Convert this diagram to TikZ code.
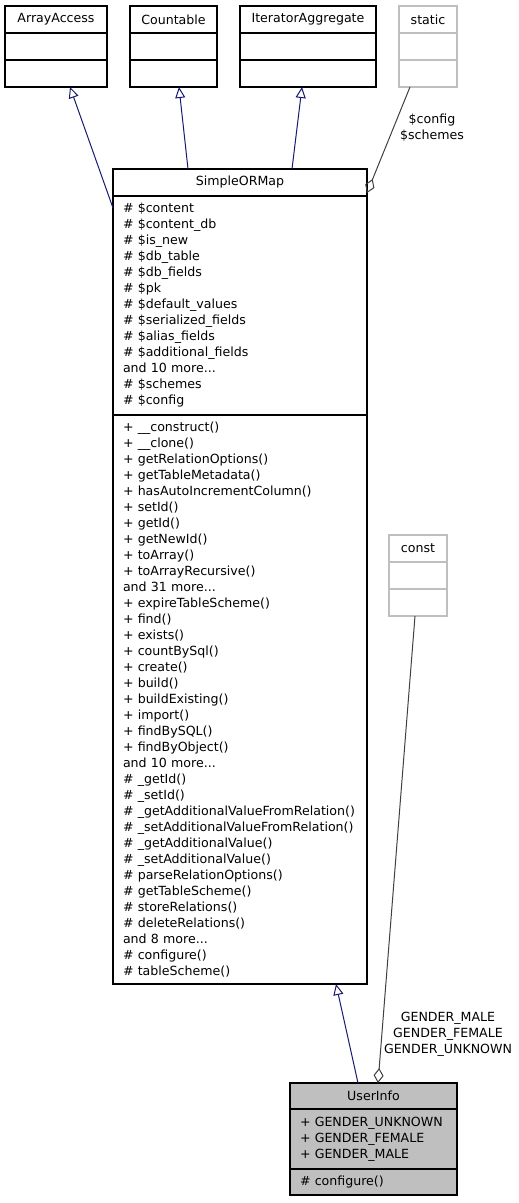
\documentclass[tikz,border=0pt]{standalone}
\usepackage{fontspec}
\setmainfont{DejaVu Sans}
\usetikzlibrary{positioning,arrows.meta}
\definecolor{edgeblue}{HTML}{191970}
\definecolor{edgegray}{HTML}{404040}
\definecolor{boxgray}{HTML}{BFBFBF}

\begin{document}
\begin{tikzpicture}[x=1pt,y=-1pt,node distance=0pt,
    every node/.style={font=\fontsize{12.6}{16}\selectfont},
    cls/.style={draw=black, line width=1.1pt, inner sep=0pt, outer sep=0pt, minimum height=27pt, minimum width=#1},
    ghost/.style={cls=#1, draw=boxgray},
    mem/.style={draw=black, line width=1.1pt, inner xsep=10pt, inner ysep=0pt, outer sep=0pt, text width=#1, align=left},
    inherit/.style={edgeblue, line width=1pt, -{Triangle[open,length=11pt,width=10pt]}},
    aggr/.style={edgegray, line width=1pt, -{Diamond[open,length=15pt,width=10pt]}}]
    \useasboundingbox (0,0) rectangle (519,1203);

    \node[cls=102] (aa) at (56,19.5) {ArrayAccess};
    \node[cls=102, below=of aa] (aa2) {};
    \node[cls=102, below=of aa2] (aa3) {};
    \node[cls=87] (cnt) at (173.5,19.5) {Countable};
    \node[cls=87, below=of cnt] (cnt2) {};
    \node[cls=87, below=of cnt2] (cnt3) {};
    \node[cls=136] (itagg) at (308,19.5) {IteratorAggregate};
    \node[cls=136, below=of itagg] (itagg2) {};
    \node[cls=136, below=of itagg2] (itagg3) {};
    \node[ghost=58] (stat) at (428,19.5) {static};
    \node[ghost=58, below=of stat] (stat2) {};
    \node[ghost=58, below=of stat2] (stat3) {};

    \node[cls=254] (smap) at (240,182.5) {SimpleORMap};
    \node[mem=234, minimum height=219pt, below=of smap] (smapattr) {\# \$content\\\# \$content\_db\\\# \$is\_new\\\# \$db\_table\\\# \$db\_fields\\\# \$pk\\\# \$default\_values\\\# \$serialized\_fields\\\# \$alias\_fields\\\# \$additional\_fields\\and 10 more...\\\# \$schemes\\\# \$config};
    \node[mem=234, minimum height=569pt, below=of smapattr] (smapops) {+ \_\_construct()\\+ \_\_clone()\\+ getRelationOptions()\\+ getTableMetadata()\\+ hasAutoIncrementColumn()\\+ setId()\\+ getId()\\+ getNewId()\\+ toArray()\\+ toArrayRecursive()\\and 31 more...\\+ expireTableScheme()\\+ find()\\+ exists()\\+ countBySql()\\+ create()\\+ build()\\+ buildExisting()\\+ import()\\+ findBySQL()\\+ findByObject()\\and 10 more...\\\# \_getId()\\\# \_setId()\\\# \_getAdditionalValueFromRelation()\\\# \_setAdditionalValueFromRelation()\\\# \_getAdditionalValue()\\\# \_setAdditionalValue()\\\# parseRelationOptions()\\\# getTableScheme()\\\# storeRelations()\\\# deleteRelations()\\and 8 more...\\\# configure()\\\# tableScheme()};

    \node[ghost=58] (const) at (418,548.5) {const};
    \node[ghost=58, below=of const] (const2) {};
    \node[ghost=58, below=of const2] (const3) {};

    \node[cls=167, minimum height=26pt, fill=boxgray] (uinfo) at (373.5,1096) {UserInfo};
    \node[mem=147, minimum height=60pt, fill=boxgray, below=of uinfo] (uinfoattr) {+ GENDER\_UNKNOWN\\+ GENDER\_FEMALE\\+ GENDER\_MALE};
    \node[mem=147, minimum height=26pt, fill=boxgray, below=of uinfoattr] (uinfoops) {\# configure()};

    \draw[inherit] ([yshift=-12pt]smapattr.north west) -- ([xshift=14pt]aa3.south);
    \draw[inherit] ([xshift=-52pt]smap.north) -- ([xshift=5.5pt]cnt3.south);
    \draw[inherit] ([xshift=52pt]smap.north) -- ([xshift=-6pt]itagg3.south);
    \draw[aggr] ([xshift=-18pt]stat3.south) -- ([yshift=3pt]smap.south east);
    \node[align=center] (statlbl) at (432,128) {\$config\\\$schemes};

    \draw[inherit] ([xshift=-15.5pt]uinfo.north) -- ([xshift=96pt]smapops.south);
    \draw[aggr] ([xshift=-3pt]const3.south) -- ([xshift=4.5pt]uinfo.north);
    \node[align=center] (constlbl) at (448,1034) {GENDER\_MALE\\GENDER\_FEMALE\\GENDER\_UNKNOWN};
\end{tikzpicture}
\end{document}
